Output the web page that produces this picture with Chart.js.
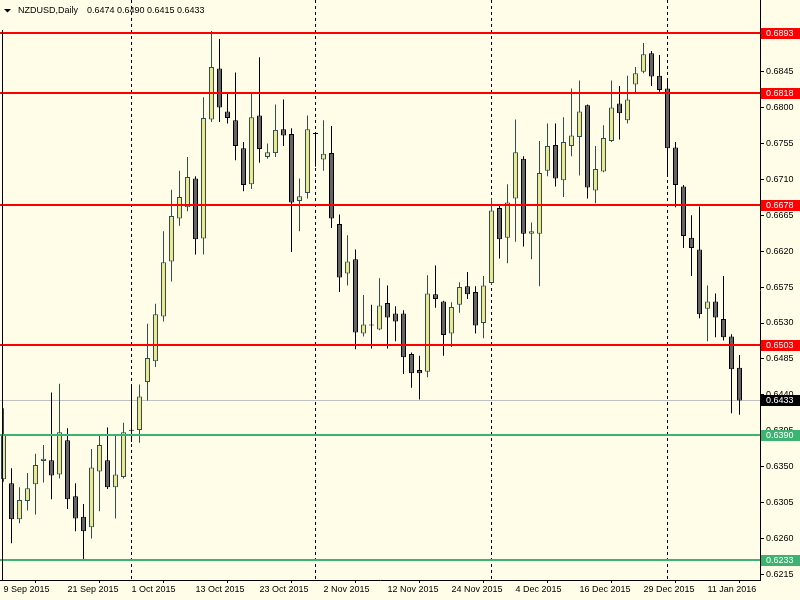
<!DOCTYPE html>
<html>
<head>
<meta charset="utf-8">
<script src="https://cdn.jsdelivr.net/npm/chart.js@4.4.1/dist/chart.umd.min.js"></script>
<style>
    html, body { margin: 0; padding: 0; background: #FFFDE8; }
    #wrap { width: 800px; height: 600px; }
</style>
</head>
<body>
<div id="wrap"><canvas id="chart" width="800" height="600"></canvas></div>
<script>
// NZDUSD daily bars, 9 Sep 2015 .. 15 Jan 2016
const dates = [
    '9 Sep 2015','10 Sep 2015','11 Sep 2015','14 Sep 2015','15 Sep 2015','16 Sep 2015','17 Sep 2015','18 Sep 2015',
    '21 Sep 2015','22 Sep 2015','23 Sep 2015','24 Sep 2015','25 Sep 2015','28 Sep 2015','29 Sep 2015','30 Sep 2015',
    '1 Oct 2015','2 Oct 2015','5 Oct 2015','6 Oct 2015','7 Oct 2015','8 Oct 2015','9 Oct 2015','12 Oct 2015',
    '13 Oct 2015','14 Oct 2015','15 Oct 2015','16 Oct 2015','19 Oct 2015','20 Oct 2015','21 Oct 2015','22 Oct 2015',
    '23 Oct 2015','25 Oct 2015','26 Oct 2015','27 Oct 2015','28 Oct 2015','29 Oct 2015','30 Oct 2015','1 Nov 2015',
    '2 Nov 2015','3 Nov 2015','4 Nov 2015','5 Nov 2015','6 Nov 2015','9 Nov 2015','10 Nov 2015','11 Nov 2015',
    '12 Nov 2015','13 Nov 2015','16 Nov 2015','17 Nov 2015','18 Nov 2015','19 Nov 2015','20 Nov 2015','23 Nov 2015',
    '24 Nov 2015','25 Nov 2015','26 Nov 2015','27 Nov 2015','30 Nov 2015','1 Dec 2015','2 Dec 2015','3 Dec 2015',
    '4 Dec 2015','7 Dec 2015','8 Dec 2015','9 Dec 2015','10 Dec 2015','11 Dec 2015','14 Dec 2015','15 Dec 2015',
    '16 Dec 2015','17 Dec 2015','18 Dec 2015','21 Dec 2015','22 Dec 2015','23 Dec 2015','24 Dec 2015','28 Dec 2015',
    '29 Dec 2015','30 Dec 2015','31 Dec 2015','4 Jan 2016','5 Jan 2016','6 Jan 2016','7 Jan 2016','8 Jan 2016',
    '11 Jan 2016','12 Jan 2016','13 Jan 2016','14 Jan 2016','15 Jan 2016'
];

const opens = [
    0.6334,0.6329,0.6284,0.6307,0.6328,0.6357,0.6358,0.6340,0.6383,0.6313,
    0.6287,0.6274,0.6344,0.6358,0.6324,0.6337,0.6395,0.6396,0.6456,0.6482,
    0.6538,0.6607,0.6661,0.6675,0.6711,0.6636,0.6785,0.6849,0.6795,0.6784,
    0.6749,0.6704,0.6790,0.6738,0.6743,0.6773,0.6767,0.6683,0.6693,0.6767,
    0.6735,0.6743,0.6654,0.6592,0.6610,0.6517,0.6527,0.6522,0.6555,0.6542,
    0.6542,0.6491,0.6471,0.6469,0.6566,0.6557,0.6517,0.6553,0.6576,0.6569,
    0.6530,0.6580,0.6674,0.6637,0.6686,0.6736,0.6642,0.6642,0.6721,0.6753,
    0.6709,0.6752,0.6763,0.6803,0.6696,0.6720,0.6758,0.6805,0.6784,0.6829,
    0.6845,0.6868,0.6840,0.6824,0.6750,0.6701,0.6637,0.6622,0.6548,0.6557,
    0.6535,0.6513,0.6474
];
const highs = [
    0.6423,0.6348,0.6324,0.6342,0.6366,0.6377,0.6443,0.6454,0.6398,0.6329,
    0.6303,0.6372,0.6389,0.6399,0.6390,0.6405,0.6451,0.6453,0.6529,0.6554,
    0.6645,0.6697,0.6721,0.6738,0.6714,0.6813,0.6896,0.6886,0.6818,0.6844,
    0.6757,0.6818,0.6863,0.6755,0.6804,0.6810,0.6774,0.6711,0.6790,0.6768,
    0.6784,0.6777,0.6666,0.6640,0.6622,0.6565,0.6553,0.6586,0.6577,0.6551,
    0.6546,0.6493,0.6489,0.6590,0.6602,0.6558,0.6556,0.6581,0.6594,0.6576,
    0.6589,0.6686,0.6678,0.6704,0.6785,0.6739,0.6656,0.6758,0.6780,0.6780,
    0.6788,0.6824,0.6834,0.6804,0.6752,0.6778,0.6834,0.6827,0.6840,0.6851,
    0.6881,0.6871,0.6866,0.6834,0.6757,0.6703,0.6665,0.6676,0.6577,0.6567,
    0.6589,0.6516,0.6490
];
const lows = [
    0.6331,0.6254,0.6279,0.6295,0.6290,0.6330,0.6309,0.6335,0.6297,0.6269,
    0.6234,0.6260,0.6294,0.6322,0.6285,0.6335,0.6381,0.6380,0.6433,0.6475,
    0.6532,0.6582,0.6652,0.6670,0.6616,0.6616,0.6782,0.6782,0.6780,0.6734,
    0.6695,0.6698,0.6731,0.6736,0.6738,0.6752,0.6619,0.6645,0.6686,0.6726,
    0.6721,0.6649,0.6569,0.6577,0.6497,0.6513,0.6498,0.6521,0.6498,0.6507,
    0.6466,0.6449,0.6434,0.6462,0.6549,0.6489,0.6500,0.6543,0.6560,0.6517,
    0.6511,0.6578,0.6611,0.6605,0.6632,0.6626,0.6610,0.6576,0.6714,0.6701,
    0.6688,0.6739,0.6715,0.6686,0.6680,0.6719,0.6757,0.6760,0.6780,0.6819,
    0.6843,0.6827,0.6820,0.6716,0.6675,0.6624,0.6589,0.6536,0.6507,0.6512,
    0.6508,0.6417,0.6415
];
const closes = [
    0.6390,0.6284,0.6308,0.6323,0.6352,0.6360,0.6339,0.6393,0.6309,0.6285,
    0.6269,0.6349,0.6377,0.6324,0.6340,0.6393,0.6395,0.6438,0.6486,0.6541,
    0.6606,0.6664,0.6688,0.6713,0.6635,0.6787,0.6851,0.6800,0.6787,0.6752,
    0.6703,0.6788,0.6748,0.6744,0.6772,0.6765,0.6681,0.6689,0.6773,0.6767,
    0.6742,0.6661,0.6587,0.6607,0.6518,0.6528,0.6527,0.6552,0.6537,0.6532,
    0.6487,0.6467,0.6467,0.6567,0.6560,0.6515,0.6550,0.6575,0.6566,0.6527,
    0.6577,0.6671,0.6635,0.6681,0.6744,0.6642,0.6645,0.6718,0.6752,0.6711,
    0.6757,0.6765,0.6795,0.6700,0.6723,0.6762,0.6800,0.6793,0.6810,0.6843,
    0.6867,0.6839,0.6822,0.6749,0.6703,0.6639,0.6624,0.6541,0.6557,0.6537,
    0.6512,0.6472,0.6433
];

const xTickIdx = [0, 8, 16, 24, 32, 40, 48, 56, 64, 72, 80, 88];
const yTicks = [0.6215, 0.6260, 0.6305, 0.6350, 0.6395, 0.6440, 0.6485, 0.6530,
                0.6575, 0.6620, 0.6665, 0.6710, 0.6755, 0.6800, 0.6845, 0.6890];
const redLevels = [0.6893, 0.6818, 0.6678, 0.6503];
const greenLevels = [0.6390, 0.6233];
const lastPrice = 0.6433;
const separatorIdx = [16, 39, 61, 83];   // first bar of Oct, Nov, Dec, Jan

const BG = '#FFFDE8';
const FONT = 'Liberation Sans';

const bull = (i) => closes[i] > opens[i];
const bear = (i) => closes[i] < opens[i];
const bodyFill = opens.map((o, i) => bull(i) ? '#F0E68C' : (bear(i) ? '#646464' : '#000000'));
const lineColor = opens.map((o, i) => bull(i) ? '#2F4F4F' : '#000000');

function noPadding(s) {
    s.paddingTop = 0;
    s.paddingBottom = 0;
    s.paddingLeft = 0;
    s.paddingRight = 0;
}

const mtPlugin = {
    id: 'mt4',
    beforeDraw(chart) {
        const ctx = chart.ctx;
        ctx.save();
        ctx.fillStyle = BG;
        ctx.fillRect(0, 0, chart.width, chart.height);
        ctx.restore();
    },
    beforeDatasetsDraw(chart) {
        const ctx = chart.ctx;
        const area = chart.chartArea;
        const xs = chart.scales.x, ys = chart.scales.y;
        ctx.save();
        // last price line
        const yl = Math.round(ys.getPixelForValue(lastPrice)) + 0.5;
        ctx.strokeStyle = '#C0C0C0';
        ctx.lineWidth = 1;
        ctx.beginPath();
        ctx.moveTo(area.left, yl);
        ctx.lineTo(area.right, yl);
        ctx.stroke();
        // month separators
        ctx.strokeStyle = '#000';
        ctx.setLineDash([3, 3]);
        for (let idx of separatorIdx) {
            const x = Math.floor(xs.getPixelForValue(idx)) + 0.5;
            ctx.beginPath();
            ctx.moveTo(x, area.top);
            ctx.lineTo(x, area.bottom);
            ctx.stroke();
        }
        ctx.restore();
    },
    afterDatasetsDraw(chart) {
        const ctx = chart.ctx;
        const area = chart.chartArea;
        const ys = chart.scales.y;
        ctx.save();
        ctx.lineWidth = 2;
        const hline = (v, color) => {
            const y = Math.round(ys.getPixelForValue(v));
            ctx.strokeStyle = color;
            ctx.beginPath();
            ctx.moveTo(area.left, y);
            ctx.lineTo(area.right, y);
            ctx.stroke();
        };
        redLevels.forEach(v => hline(v, '#FF0000'));
        greenLevels.forEach(v => hline(v, '#3CB371'));
        // left frame
        ctx.lineWidth = 1;
        ctx.strokeStyle = '#000';
        ctx.beginPath();
        ctx.moveTo(2.5, 30);
        ctx.lineTo(2.5, area.bottom);
        ctx.stroke();
        ctx.restore();
    },
    afterDraw(chart) {
        const ctx = chart.ctx;
        const area = chart.chartArea;
        const ys = chart.scales.y;
        ctx.save();
        ctx.font = `9px "${FONT}"`;
        ctx.textBaseline = 'middle';
        ctx.textAlign = 'left';
        const box = (v, bg) => {
            const y = Math.round(ys.getPixelForValue(v));
            ctx.fillStyle = bg;
            ctx.fillRect(area.right + 1, y - 5, 39, 11);
            ctx.fillStyle = '#FFFFFF';
            ctx.fillText(v.toFixed(4), area.right + 6, y + 0.5);
        };
        redLevels.forEach(v => box(v, '#FF0000'));
        greenLevels.forEach(v => box(v, '#3CB371'));
        box(lastPrice, '#000000');

        // header
        const n = closes.length - 1;
        ctx.fillStyle = '#000';
        ctx.beginPath();
        ctx.moveTo(4, 9);
        ctx.lineTo(11, 9);
        ctx.lineTo(7.5, 12.5);
        ctx.closePath();
        ctx.fill();
        ctx.fillText('NZDUSD,Daily', 18, 11);
        ctx.fillText([opens[n], highs[n], lows[n], closes[n]].map(v => v.toFixed(4)).join(' '), 87, 11);
        ctx.restore();
    }
};

new Chart(document.getElementById('chart'), {
    type: 'bar',
    data: {
        datasets: [
            {
                label: 'body',
                data: opens.map((o, i) => ({ x: i, y: [o, closes[i]] })),
                backgroundColor: bodyFill,
                borderColor: lineColor,
                borderWidth: 1,
                borderSkipped: false,
                barThickness: 5,
                minBarLength: 1,
                inflateAmount: 0,
                grouped: false,
                order: 0
            },
            {
                label: 'wick',
                data: lows.map((l, i) => ({ x: i, y: [l, highs[i]] })),
                backgroundColor: lineColor,
                borderWidth: 0,
                barThickness: 1,
                inflateAmount: 0,
                grouped: false,
                order: 1
            }
        ]
    },
    options: {
        responsive: false,
        animation: false,
        layout: { padding: 0 },
        plugins: { legend: { display: false }, tooltip: { enabled: false } },
        scales: {
            x: {
                type: 'linear',
                min: -0.4375,
                max: 94.5625,
                offset: false,
                afterBuildTicks(s) { s.ticks = xTickIdx.map(v => ({ value: v })); },
                afterFit(s) { s.height = 20; noPadding(s); },
                ticks: {
                    callback: (v) => dates[v],
                    align: 'start',
                    autoSkip: false,
                    maxRotation: 0,
                    padding: 1,
                    color: '#000',
                    font: { family: FONT, size: 9 }
                },
                grid: { drawOnChartArea: false, tickLength: 3, tickColor: '#000' },
                border: { display: true, color: '#000', width: 1 }
            },
            y: {
                type: 'linear',
                position: 'right',
                min: 0.620787,
                max: 0.693487,
                afterBuildTicks(s) { s.ticks = yTicks.map(v => ({ value: v })); },
                afterFit(s) { s.width = 40; noPadding(s); },
                ticks: {
                    callback: (v) => v.toFixed(4),
                    padding: 2,
                    color: '#000',
                    font: { family: FONT, size: 9 }
                },
                grid: { drawOnChartArea: false, tickLength: 4, tickColor: '#000' },
                border: { display: true, color: '#000', width: 1 }
            }
        }
    },
    plugins: [mtPlugin]
});
</script>
</body>
</html>
